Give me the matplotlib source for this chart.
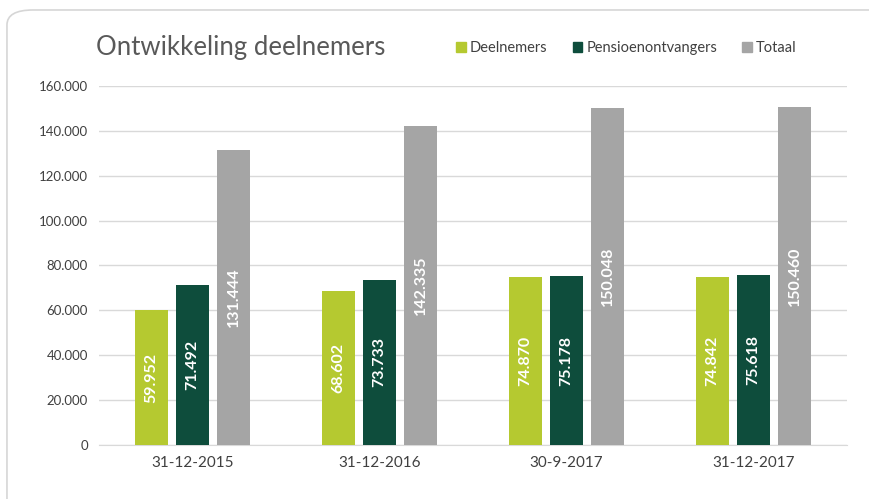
import matplotlib.pyplot as plt
import numpy as np
from matplotlib.patches import FancyBboxPatch

plt.rcParams['font.family'] = ['Lato', 'DejaVu Sans']

# data
categories = ['31-12-2015', '31-12-2016', '30-9-2017', '31-12-2017']
deelnemers = [59952, 68602, 74870, 74842]
pensioen = [71492, 73733, 75178, 75618]
totaal = [131444, 142335, 150048, 150460]
series_names = ['Deelnemers', 'Pensioenontvangers', 'Totaal']
colors = ['#B5C930', '#0E4D3C', '#A5A5A5']

def fmt(v):
    return f"{v:,}".replace(',', '.')

fig = plt.figure(figsize=(8.7, 4.99), dpi=100)

# card background
card = FancyBboxPatch((0.008, -0.05), 1.1, 1.03, boxstyle="round,pad=0,rounding_size=0.03",
                      transform=fig.transFigure, facecolor='white', edgecolor='#D6D6D6',
                      linewidth=1.2, zorder=-10)
fig.patches.append(card)

ax = fig.add_axes([0.1138, 0.1082, 0.8598, 0.7195])
ax.set_facecolor('none')
ax.set_zorder(5)

x = np.arange(len(categories))
w = 0.177
step = 0.219
for i, (vals, col) in enumerate(zip([deelnemers, pensioen, totaal], colors)):
    pos = x + (i - 1) * step
    bars = ax.bar(pos, vals, width=w, color=col, zorder=3)
    for b, v in zip(bars, vals):
        ax.text(b.get_x() + b.get_width() / 2, v / 2, fmt(v), rotation=90,
                ha='center', va='center', color='white', fontsize=11.5,
                fontweight='bold', zorder=4)

ax.set_xlim(-0.5, len(categories) - 0.5)
ax.set_ylim(0, 160000)
ax.set_yticks(np.arange(0, 160001, 20000))
ax.set_yticklabels([fmt(v) for v in range(0, 160001, 20000)], fontsize=9.5, color='#404040')
ax.set_xticks(x)
ax.set_xticklabels(categories, fontsize=11, color='#404040')
ax.tick_params(length=0, axis='y', pad=8)
ax.tick_params(length=0, axis='x', pad=8)
ax.grid(axis='y', color='#D9D9D9', linewidth=1, zorder=0)
for s in ['top', 'right', 'left']:
    ax.spines[s].set_visible(False)
ax.spines['bottom'].set_color('#D9D9D9')

fig.text(0.110, 0.905, 'Ontwikkeling deelnemers', fontsize=18.5, color='#595959', va='center')

handles = [plt.Rectangle((0, 0), 1, 1, color=c) for c in colors]
fig.legend(handles, series_names, loc='center', bbox_to_anchor=(0.720, 0.903), ncol=3,
           frameon=False, fontsize=10.5, handlelength=0.65, handleheight=0.65,
           handletextpad=0.3, columnspacing=1.7, labelcolor='#404040')

fig.savefig('out.png', dpi=100)
